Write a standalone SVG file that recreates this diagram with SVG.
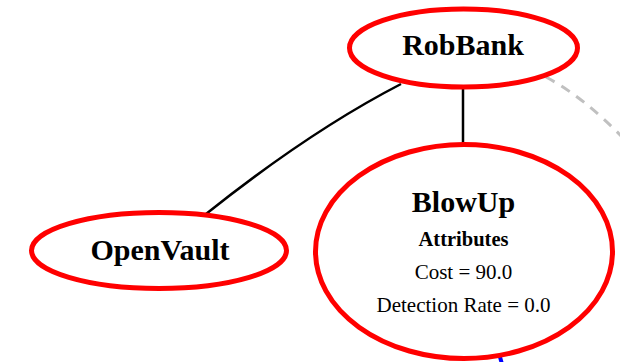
<svg xmlns="http://www.w3.org/2000/svg" width="620" height="362" viewBox="0 0 620 362">
  <style>
    .node ellipse { fill: #ffffff; stroke: #ff0000; stroke-width: 5; }
    .title { font-family: "Liberation Serif", "Times New Roman", serif; font-size: 30px; font-weight: bold; fill: #000000; text-anchor: middle; }
    .attr-head { font-family: "Liberation Serif", "Times New Roman", serif; font-size: 20.5px; font-weight: bold; fill: #000000; text-anchor: middle; }
    .attr { font-family: "Liberation Serif", "Times New Roman", serif; font-size: 21px; fill: #000000; text-anchor: middle; }
    .edge { fill: none; stroke: #000000; stroke-width: 2.5; }
    .edge-dashed { fill: none; stroke: #c0c0c0; stroke-width: 3; stroke-dasharray: 10 8; }
    .edge-blue { fill: none; stroke: #0000ff; stroke-width: 4; }
  </style>
  <rect width="620" height="362" fill="#ffffff"/>

  <g id="edges">
    <path class="edge" d="M401,84 Q310,131 206,214"/>
    <path class="edge" d="M463,89 L463,143"/>
    <path class="edge-dashed" d="M546,77 Q585,98 625,140"/>
    <path class="edge-blue" d="M500,357 L502,364"/>
  </g>

  <g id="RobBank" class="node">
    <ellipse cx="463.5" cy="48" rx="114" ry="39"/>
    <text class="title" x="463" y="55">RobBank</text>
  </g>

  <g id="OpenVault" class="node">
    <ellipse cx="159" cy="250.5" rx="127.5" ry="38"/>
    <text class="title" x="160" y="260">OpenVault</text>
  </g>

  <g id="BlowUp" class="node">
    <ellipse cx="464" cy="251.5" rx="148.5" ry="107"/>
    <text class="title" x="463.5" y="212">BlowUp</text>
    <text class="attr-head" x="463.5" y="246">Attributes</text>
    <text class="attr" x="463.5" y="279">Cost = 90.0</text>
    <text class="attr" x="463.5" y="312">Detection Rate = 0.0</text>
  </g>
</svg>
